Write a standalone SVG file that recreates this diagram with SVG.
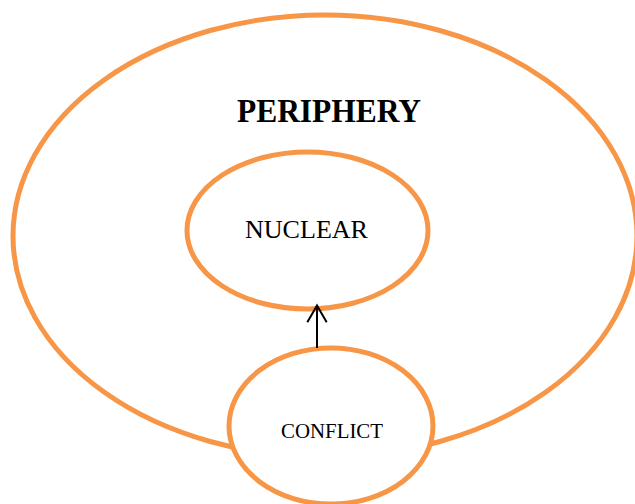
<svg xmlns="http://www.w3.org/2000/svg" width="635" height="504" viewBox="0 0 635 504">
<style>
.ring{fill:none;stroke:#F79646;stroke-width:5}
.ringf{fill:#ffffff;stroke:#F79646;stroke-width:5}
.lbl{font-family:"Liberation Serif","Times New Roman",serif;fill:#000;text-anchor:middle}
.conn{stroke:#000;stroke-width:2;fill:none}
</style>
<rect width="635" height="504" fill="#ffffff"/>
<g id="periphery">
<ellipse class="ring" cx="325" cy="236" rx="312" ry="221"/>
<text class="lbl" x="329" y="122" font-size="34" font-weight="bold" textLength="184" lengthAdjust="spacingAndGlyphs">PERIPHERY</text>
</g>
<g id="nuclear">
<ellipse class="ring" cx="307.5" cy="230.5" rx="120.5" ry="78.5"/>
<text class="lbl" x="306.5" y="238" font-size="25" textLength="123" lengthAdjust="spacingAndGlyphs">NUCLEAR</text>
</g>
<g id="conflict">
<ellipse class="ringf" cx="331" cy="426" rx="102" ry="78"/>
<text class="lbl" x="332" y="438" font-size="21" textLength="102" lengthAdjust="spacingAndGlyphs">CONFLICT</text>
</g>
<g id="connectors">
<line class="conn" x1="317" y1="348" x2="317" y2="306"/>
<polyline class="conn" points="307.3,322.3 317,305.5 326.7,322.3"/>
</g>
</svg>
